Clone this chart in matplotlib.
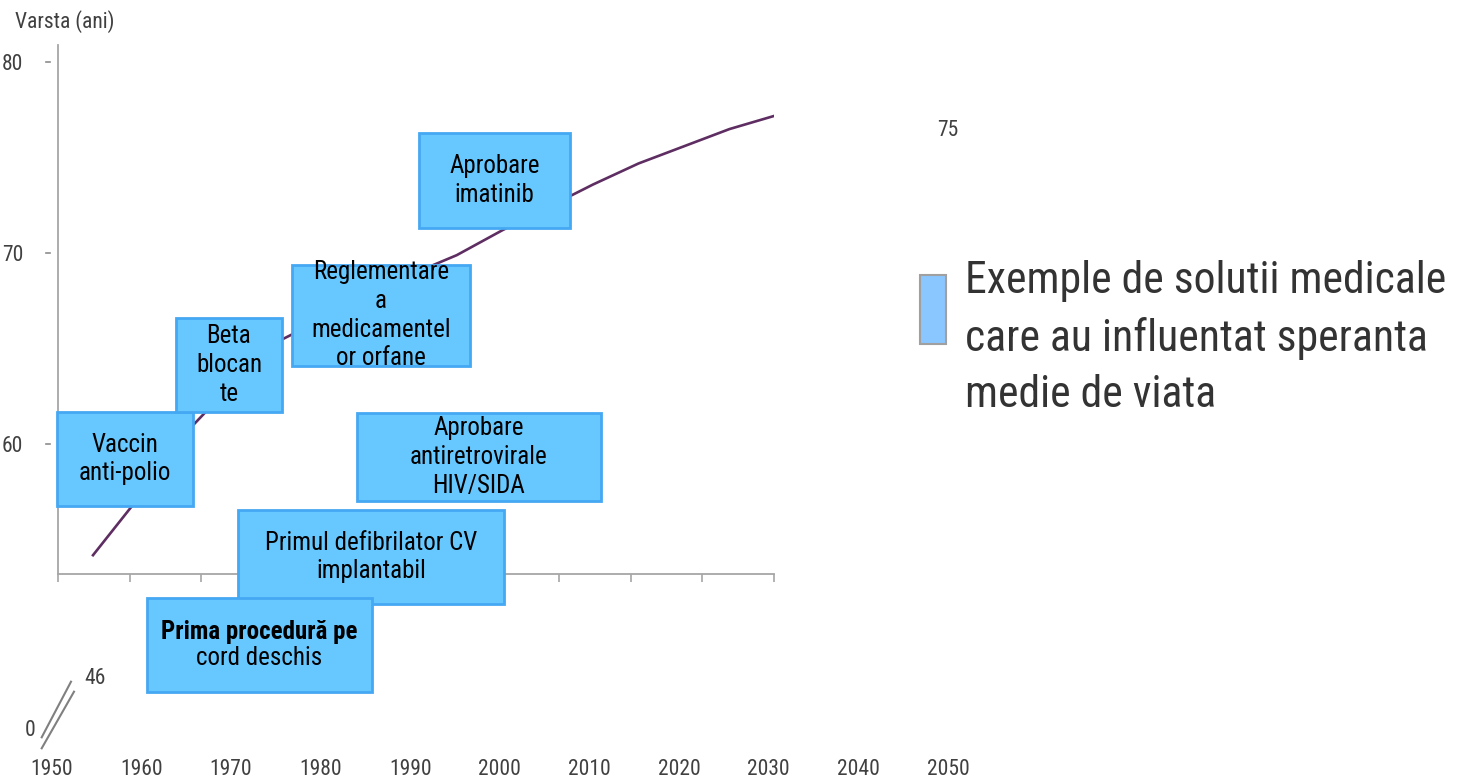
import matplotlib
matplotlib.use("Agg")
import matplotlib.pyplot as plt
import matplotlib.transforms as mtransforms
from matplotlib import font_manager
from matplotlib.patches import Rectangle
from matplotlib.lines import Line2D


def pick_font(names):
    for n in names:
        try:
            font_manager.findfont(n, fallback_to_default=False)
            return n
        except ValueError:
            pass
    return 'DejaVu Sans'


narrow = pick_font(['Liberation Sans Narrow', 'Roboto Condensed', 'Liberation Sans'])
plt.rcParams['font.family'] = [narrow, 'DejaVu Sans']

# speranta de viata
years = [1955, 1960, 1965, 1970, 1975, 1980, 1985, 1990,
         1995, 2000, 2005, 2010, 2015, 2020, 2025, 2030]
life_exp = [54.2, 57.2, 60.5, 63.0, 65.3, 66.5, 67.7, 68.9,
            69.9, 71.2, 72.4, 73.6, 74.7, 75.6, 76.5, 77.2]

y_ticks = [60, 70, 80]
year_labels = [1950, 1960, 1970, 1980, 1990, 2000, 2010, 2020, 2030, 2040, 2050]

events = ["Vaccin\nanti-polio",
          "Beta\nblocan\nte",
          "Reglementare\na\nmedicamentel\nor orfane",
          "Aprobare\nimatinib",
          "Aprobare\nantiretrovirale\nHIV/SIDA",
          "Primul defibrilator CV\nimplantabil",
          "Prima procedură pe\ncord deschis"]
# box extents (x0, x1, y0, y1) in axis units
event_boxes = [(1951.05, 1966.0, 56.78, 61.70),
               (1964.13, 1975.78, 61.70, 66.62),
               (1976.88, 1996.46, 64.11, 69.40),
               (1990.85, 2007.46, 71.34, 76.31),
               (1984.03, 2010.87, 57.04, 61.65),
               (1970.95, 2000.20, 51.65, 56.57),
               (1960.94, 1985.68, 47.04, 51.96)]

W, H = 1475, 779
fig = plt.figure(figsize=(W / 100, H / 100), dpi=100)
ax = fig.add_axes([58 / W, 1 - 574.3 / H, 716 / W, (574.3 - 45) / H])

ax.plot(years, life_exp, color='#5E2D62', lw=1.9, zorder=2)
ax.set_xlim(1951.15, 2029.9)
ax.set_ylim(53.2, 80.9)

for s in ['top', 'right']:
    ax.spines[s].set_visible(False)
for s in ['left', 'bottom']:
    ax.spines[s].set_color('#A6A6A6')
    ax.spines[s].set_linewidth(1.3)

ax.set_xticks([1951.15 + i * (2029.9 - 1951.15) / 10 for i in range(11)])
ax.tick_params(axis='x', length=6, width=1.2, color='#A6A6A6', labelbottom=False)
ax.set_yticks(y_ticks)
ax.set_yticklabels([str(v) for v in y_ticks])
ax.tick_params(axis='y', length=0, pad=25, labelsize=15.5, labelcolor='#404040')

# detached little tick dashes
ytr = mtransforms.blended_transform_factory(ax.transAxes, ax.transData)
for v in y_ticks:
    ax.add_line(Line2D([-0.0165, -0.0105], [v, v], transform=ytr,
                       color='#8C8C8C', lw=1.2, clip_on=False))

# event boxes
for label, (x0, x1, y0, y1) in zip(events, event_boxes):
    ax.add_patch(Rectangle((x0, y0), x1 - x0, y1 - y0, facecolor='#66C8FF',
                           edgecolor='#45A8F2', lw=2, clip_on=False, zorder=3))
    cx, cy = (x0 + x1) / 2, (y0 + y1) / 2
    if label.startswith('Prima'):
        first, second = label.split('\n')
        ax.text(cx, cy + 0.7, first, ha='center', va='center', fontsize=18,
                fontweight='bold', color='black', zorder=4, clip_on=False)
        ax.text(cx, cy - 0.7, second, ha='center', va='center', fontsize=18,
                color='black', zorder=4, clip_on=False)
    else:
        ax.text(cx, cy, label, ha='center', va='center', fontsize=18,
                color='black', linespacing=1.25, zorder=4, clip_on=False)

# bottom year labels
ax2 = fig.add_axes([51.7 / W, 1 - 759 / H, (948 - 51.7) / W, 0.0001])
ax2.set_xlim(1950, 2050)
ax2.set_xticks(year_labels)
ax2.set_xticklabels([str(y) for y in year_labels])
ax2.tick_params(axis='x', length=0, pad=0, labelsize=15.5, labelcolor='#404040')
ax2.set_yticks([])
for s in ax2.spines.values():
    s.set_visible(False)
ax2.patch.set_visible(False)

# axis title, break marks and stray labels
fig.text(15 / W, 1 - 22 / H, 'Varsta (ani)', ha='left', va='center',
         fontsize=15.5, color='#404040')
fig.text(30 / W, 1 - 730 / H, '0', ha='center', va='center', fontsize=15.5, color='#404040')
fig.text(95 / W, 1 - 678 / H, '46', ha='center', va='center', fontsize=15.5, color='#404040')
fig.text(948 / W, 1 - 130 / H, '75', ha='center', va='center', fontsize=15.5, color='#404040')
for (xa, ya, xb, yb) in [(41.7, 737.3, 71, 681.7), (41.7, 748.3, 74, 691.7)]:
    fig.add_artist(Line2D([xa / W, xb / W], [1 - ya / H, 1 - yb / H],
                          transform=fig.transFigure, color='#808080', lw=1.5))

# legend
fig.add_artist(Rectangle((920 / W, 1 - 344 / H), 26 / W, 69 / H, transform=fig.transFigure,
                         facecolor='#8AC6FF', edgecolor='#A0A0A0', lw=1.5))
fig.text(965 / W, 1 - 260 / H,
         'Exemple de solutii medicale\ncare au influentat speranta\nmedie de viata',
         ha='left', va='top', fontsize=31.5, color='#333333', linespacing=1.44,
         transform=fig.transFigure)

fig.savefig('out.png', dpi=100)
